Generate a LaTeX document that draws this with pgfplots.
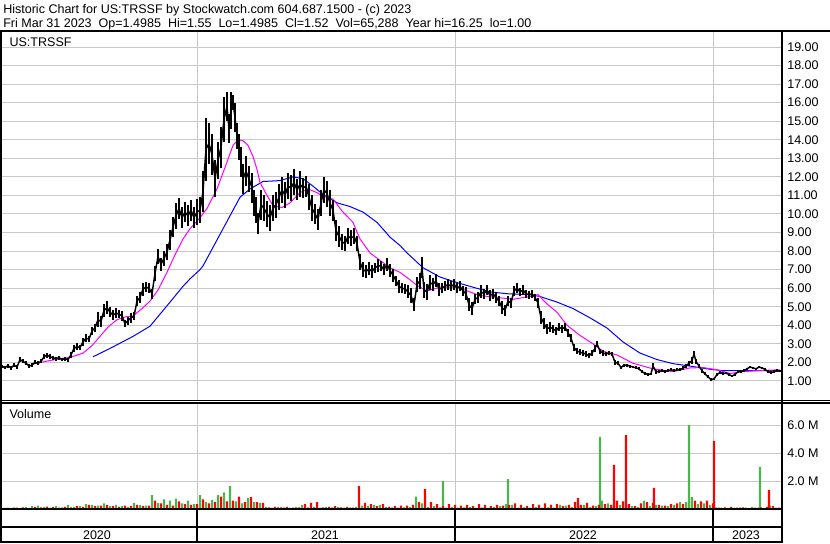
\documentclass[border=0pt]{standalone}
\usepackage{pgfplots}
\pgfplotsset{compat=1.18}
\usepackage{pgfplotstable}
\usepackage{fontspec}
\setmainfont{Liberation Sans}
\definecolor{gridgray}{RGB}{200,200,200}
\definecolor{volgreen}{RGB}{76,180,76}
\definecolor{volred}{RGB}{255,0,0}
\definecolor{mablue}{RGB}{0,0,255}
\definecolor{mamag}{RGB}{255,0,255}
\newcommand\sw{\fontsize{9.4pt}{11pt}\selectfont}

\pgfplotstableread{
x y e
2 1.78 0.10
5 1.72 0.10
8 1.82 0.11
11 1.70 0.10
14 1.85 0.11
17 1.75 0.10
20 2.15 0.14
23 2.05 0.11
26 1.95 0.11
29 1.80 0.10
32 1.85 0.11
35 2.00 0.11
38 1.95 0.10
41 2.05 0.11
44 2.30 0.14
47 2.38 0.14
50 2.30 0.14
53 2.25 0.11
56 2.20 0.10
59 2.25 0.11
62 2.15 0.10
65 2.20 0.11
68 2.15 0.11
71 2.40 0.14
74 2.75 0.17
77 2.85 0.17
80 2.80 0.14
83 3.10 0.21
86 3.30 0.21
89 3.25 0.17
92 3.70 0.21
95 3.85 0.21
98 4.30 0.42
101 4.20 0.28
104 4.80 0.35
107 4.95 0.35
110 4.70 0.28
113 4.55 0.28
116 4.65 0.28
119 4.60 0.21
122 4.50 0.28
125 4.10 0.21
128 4.25 0.21
131 4.40 0.28
134 4.50 0.21
137 5.30 0.28
140 5.50 0.28
143 5.95 0.35
146 6.05 0.28
149 6.00 0.28
152 5.70 0.28
155 6.80 0.42
158 7.70 0.42
161 7.30 0.35
164 7.60 0.42
167 7.95 0.42
170 8.60 0.56
173 9.30 0.56
176 9.90 0.7
179 10.30 0.56
182 9.80 0.56
185 10.10 0.56
188 9.90 0.56
191 10.20 0.56
194 9.80 0.56
197 10.10 0.7
200 10.20 0.7
203 11.20 1.1
206 13.50 1.7
209 13.80 1.1
212 13.20 1.1
215 11.90 1.0
218 12.90 1.0
221 13.60 1.1
224 15.10 1.2
227 15.80 0.8
229 14.60 0.8
231 15.60 1.0
233 16.00 0.4
235 15.20 0.8
237 14.20 0.7
239 13.60 0.7
241 12.80 0.8
243 11.90 0.8
246 12.30 0.8
249 11.90 0.7
252 11.40 0.8
254 10.60 0.7
256 10.20 0.7
258 9.50 0.56
261 10.50 0.8
264 10.30 0.7
267 10.00 0.7
270 9.80 0.7
273 10.30 0.7
276 10.50 0.7
279 10.90 0.7
282 11.30 0.7
285 11.00 0.7
288 11.50 0.7
291 11.40 0.7
294 11.70 0.7
297 11.30 0.56
300 11.60 0.7
303 11.40 0.56
306 11.50 0.56
309 10.90 0.7
312 10.30 0.7
315 10.00 0.56
318 9.70 0.56
321 10.60 0.7
324 11.30 0.7
327 11.10 0.7
330 10.60 0.7
333 10.20 0.56
336 9.10 0.56
339 8.80 0.56
342 8.50 0.42
345 8.40 0.42
348 8.80 0.42
351 8.70 0.42
354 8.80 0.42
357 8.40 0.42
360 7.40 0.42
363 7.00 0.42
366 6.90 0.35
369 7.05 0.35
372 6.90 0.35
375 7.10 0.28
378 7.20 0.35
381 7.20 0.28
384 7.00 0.28
387 7.30 0.35
390 6.95 0.35
393 6.70 0.35
396 6.40 0.28
399 6.10 0.35
402 6.00 0.28
405 5.95 0.28
408 5.80 0.35
411 5.60 0.42
414 5.10 0.35
417 6.20 0.42
420 6.40 0.42
422 7.10 0.56
424 5.90 0.42
427 5.80 0.42
430 6.30 0.42
433 6.20 0.35
436 6.40 0.35
439 5.95 0.35
442 6.00 0.28
445 6.10 0.28
448 6.20 0.28
451 6.10 0.28
454 6.20 0.28
457 6.00 0.28
460 6.10 0.28
463 5.85 0.28
466 5.70 0.35
469 5.10 0.35
472 4.90 0.35
475 5.40 0.28
478 5.50 0.28
481 5.80 0.35
484 5.70 0.28
487 5.90 0.28
490 5.60 0.28
493 5.70 0.28
496 5.50 0.28
499 5.30 0.28
502 4.95 0.35
505 4.80 0.28
508 5.30 0.28
511 5.20 0.28
514 5.85 0.28
517 6.00 0.28
520 5.80 0.21
523 5.90 0.28
526 5.70 0.21
529 5.65 0.21
532 5.70 0.21
535 5.50 0.21
538 5.20 0.28
541 4.40 0.35
544 4.10 0.28
547 3.80 0.28
550 3.90 0.28
553 3.80 0.21
556 3.70 0.21
559 3.90 0.21
562 3.80 0.21
565 3.90 0.21
568 3.60 0.21
571 3.30 0.21
574 2.80 0.21
577 2.60 0.17
580 2.55 0.17
583 2.50 0.17
586 2.45 0.14
589 2.35 0.14
592 2.50 0.14
595 2.75 0.17
597 3.00 0.17
600 2.60 0.14
603 2.50 0.14
606 2.45 0.11
609 2.50 0.11
612 2.45 0.11
615 2.00 0.14
618 1.95 0.11
621 1.72 0.08
624 1.85 0.08
627 1.85 0.08
630 1.80 0.08
633 1.75 0.08
636 1.70 0.08
639 1.65 0.08
642 1.50 0.08
645 1.40 0.07
648 1.35 0.07
651 1.38 0.07
653 1.80 0.14
656 1.50 0.11
659 1.50 0.08
662 1.55 0.08
665 1.50 0.08
668 1.55 0.08
671 1.60 0.08
674 1.55 0.08
677 1.60 0.08
680 1.62 0.08
683 1.68 0.1
686 1.80 0.11
689 1.95 0.14
692 2.10 0.17
694 2.45 0.17
696 2.05 0.14
699 1.80 0.11
702 1.55 0.11
705 1.38 0.08
708 1.22 0.08
711 1.08 0.07
714 1.10 0.07
717 1.35 0.08
720 1.45 0.07
723 1.40 0.07
726 1.42 0.07
729 1.35 0.07
732 1.26 0.07
735 1.35 0.07
738 1.50 0.07
741 1.50 0.07
744 1.55 0.07
747 1.65 0.07
750 1.75 0.07
753 1.70 0.07
756 1.65 0.07
759 1.75 0.07
762 1.70 0.07
765 1.62 0.07
768 1.50 0.07
771 1.45 0.07
774 1.50 0.07
777 1.55 0.07
780 1.52 0.06
}\pricedata

\pgfplotstableread{
x y
32 1.9
50 2.1
67 2.25
75 2.35
83 2.5
92 2.9
100 3.4
108 3.9
117 4.3
125 4.45
133 4.5
142 4.9
150 5.3
158 5.9
167 6.85
175 7.8
183 8.65
190 9.2
200 9.8
207 10.3
217 11.35
227 12.8
233 13.7
238 14.0
243 13.95
248 13.7
253 13.1
257 12.4
260 11.7
267 11.0
273 10.45
282 10.35
290 10.6
300 11.15
308 11.35
317 11.15
323 10.95
333 10.8
343 10.1
353 9.55
360 8.65
370 7.9
380 7.5
390 7.1
400 6.85
410 6.45
417 6.15
427 5.85
440 6.05
457 6.05
467 5.85
480 5.6
497 5.5
513 5.4
530 5.55
538 5.65
547 5.15
557 4.7
567 4.0
580 3.45
593 3.0
603 2.6
617 2.4
633 1.95
653 1.65
673 1.5
690 1.7
703 1.72
717 1.6
730 1.4
743 1.5
757 1.55
780 1.6
}\madata

\pgfplotstableread{
x y
93 2.3
110 2.75
133 3.4
150 3.95
167 5.05
183 6.1
190 6.5
200 7.0
203 7.2
213 8.2
223 9.2
232 10.1
240 10.9
250 11.35
263 11.75
280 11.8
293 12.0
303 11.9
313 11.5
323 11.05
337 10.6
350 10.4
363 10.1
377 9.55
390 8.75
400 8.3
407 7.9
423 7.1
440 6.6
457 6.3
473 6.05
490 5.8
507 5.7
530 5.65
540 5.55
557 5.25
573 4.9
590 4.4
607 3.85
623 3.1
640 2.5
657 2.15
673 1.93
690 1.8
707 1.65
723 1.55
780 1.55
}\mblue

\begin{document}
\begin{tikzpicture}
\useasboundingbox (0,0) rectangle (622.5pt,-407.25pt);

% ---------- price panel ----------
\begin{axis}[
  at={(1.5pt,-300pt)}, anchor=south west,
  width=585pt, height=276pt, scale only axis,
  xmin=2, xmax=782, ymin=-0.03, ymax=19.81,
  axis line style={draw=none}, tick style={draw=none},
  xtick={197,455,713}, xticklabels={},
  ytick={1,2,...,19},
  yticklabel pos=right,
  xmajorgrids, ymajorgrids,
  grid style={color=gridgray, line width=0.75pt},
  yticklabel style={anchor=west, inner sep=0pt, xshift=3.75pt, font=\sw},
  /pgf/number format/.cd, fixed, fixed zerofill, precision=2, assume math mode=true,
]
\addplot[mablue, line width=0.75pt, mark=none] table[x=x,y=y] \mblue;
\addplot[mamag, line width=0.75pt, mark=none] table[x=x,y=y] \madata;
\addplot[black, line width=1.1pt, mark=none,
  error bars/.cd, y dir=both, y explicit, error mark=none,
  error bar style={line width=1.7pt, black}]
  table[x=x, y=y, y error=e] \pricedata;
\end{axis}

% ---------- volume panel ----------
\begin{axis}[
  at={(1.5pt,-381.75pt)}, anchor=south west,
  width=585pt, height=79.5pt, scale only axis,
  xmin=2, xmax=782, ymin=0, ymax=7.63,
  axis line style={draw=none}, tick style={draw=none},
  xtick={197,455,713}, xticklabels={},
  ytick={2,4,6}, yticklabels={2.0 M,4.0 M,6.0 M},
  yticklabel pos=right,
  xmajorgrids, ymajorgrids,
  grid style={color=gridgray, line width=0.75pt},
  yticklabel style={anchor=west, inner sep=0pt, xshift=3.75pt, font=\sw},
  ybar, bar width=1.65pt, bar shift=0pt,
]
\addplot[fill=volgreen, draw=none] coordinates {
(2,0.05)(8,0.1)(14,0.12)(20,0.08)(26,0.15)(32,0.2)(38,0.25)(44,0.15)(50,0.1)(56,0.2)
(62,0.12)(68,0.3)(74,0.15)(80,0.2)(86,0.35)(92,0.3)(98,0.25)(104,0.4)(110,0.2)(116,0.3)
(122,0.2)(128,0.15)(134,0.45)(140,0.3)(146,0.25)(152,1.0)(158,0.45)(164,0.7)(170,0.6)(176,0.75)
(182,0.4)(188,0.6)(194,0.35)(200,1.0)(206,0.5)(212,0.65)(218,1.0)(224,1.2)(230,1.65)(236,0.55)
(242,0.4)(248,0.8)(254,0.5)(260,0.45)(266,0.15)(272,0.1)(278,0.15)(284,0.12)(290,0.1)(296,0.15)
(302,0.3)(308,0.12)(314,0.15)(320,0.1)(326,0.15)(332,0.12)(338,0.15)(344,0.1)(350,0.12)(356,0.15)
(362,0.25)(368,0.2)(374,0.3)(380,0.3)(386,0.15)(392,0.12)(398,0.1)(404,0.12)(410,0.15)(416,0.9)
(422,0.4)(428,0.15)(434,0.2)(440,0.12)(446,0.1)(452,0.15)(458,0.1)(464,0.12)(470,0.15)(476,0.1)
(482,0.12)(488,0.1)(494,0.15)(500,0.2)(506,0.35)(512,0.3)(518,0.1)(524,0.12)(530,0.1)(536,0.15)
(542,0.1)(548,0.12)(554,0.1)(560,0.3)(566,0.25)(572,0.15)(578,0.2)(584,0.3)(590,0.15)(596,0.2)
(602,0.6)(608,0.4)(614,0.2)(620,0.3)(626,0.15)(632,0.2)(638,0.15)(644,0.6)(650,0.2)(656,0.3)
(662,0.25)(668,0.2)(674,0.3)(680,0.5)(686,0.5)(692,0.85)(698,0.35)(704,0.4)(710,0.3)(716,0.12)
(722,0.1)(728,0.08)(734,0.1)(740,0.12)(746,0.1)(752,0.15)(758,0.1)(764,0.05)(770,0.25)(776,0.1)
(443,2.0)(508,2.16)(600,5.2)(689,6.04)(760,3.04)
};
\addplot[fill=volred, draw=none] coordinates {
(5,0.08)(11,0.05)(17,0.1)(23,0.12)(29,0.08)(35,0.15)(41,0.12)(47,0.18)(53,0.15)(59,0.1)
(65,0.15)(71,0.12)(77,0.2)(83,0.15)(89,0.3)(95,0.2)(101,0.25)(107,0.3)(113,0.2)(119,0.15)
(125,0.25)(131,0.2)(137,0.3)(143,0.2)(149,0.25)(155,0.6)(161,0.4)(167,0.3)(173,0.25)(179,0.55)
(185,0.35)(191,0.3)(197,0.35)(203,0.7)(209,0.4)(215,0.5)(221,0.9)(227,0.55)(233,0.6)(239,0.9)
(245,0.5)(251,0.85)(257,0.5)(263,0.45)(269,0.12)(275,0.15)(281,0.12)(287,0.15)(293,0.1)(299,0.12)
(305,0.35)(311,0.45)(317,0.5)(323,0.12)(329,0.15)(335,0.2)(341,0.12)(347,0.15)(353,0.1)(359,1.65)
(365,0.45)(371,0.35)(377,0.2)(383,0.35)(389,0.15)(395,0.2)(401,0.25)(407,0.25)(413,0.3)(419,0.5)
(425,1.44)(431,0.5)(437,0.35)(443,0.2)(449,0.35)(455,0.3)(461,0.25)(467,0.3)(473,0.2)(479,0.35)
(485,0.3)(491,0.2)(497,0.3)(503,0.25)(509,0.3)(515,0.4)(521,0.3)(527,0.2)(533,0.35)(539,0.3)
(545,0.4)(551,0.3)(557,0.35)(563,0.2)(569,0.3)(575,0.5)(581,0.3)(587,0.45)(593,0.25)(599,0.3)
(605,0.35)(611,0.3)(617,0.6)(623,0.55)(629,0.35)(635,0.2)(641,0.4)(647,0.5)(653,0.45)(659,0.3)
(665,0.25)(671,0.35)(677,0.4)(683,0.35)(695,0.6)(701,0.55)(707,0.6)(713,0.4)(719,0.1)(725,0.12)
(731,0.15)(737,0.1)(743,0.12)(749,0.08)(755,0.1)(761,0.12)(767,0.15)(773,0.2)(779,0.1)
(614,3.17)(626,5.32)(654,1.53)(714,4.9)(769,1.37)(578,0.8)
};
\end{axis}

% ---------- frame and texts (px units) ----------
\begin{scope}[x=0.75pt, y=-0.75pt]
\draw[line width=1.5pt] (0,31) -- (830,31);
\draw[line width=0.75pt] (0,400) -- (830,400);
\draw[line width=1.2pt] (0,402.8) -- (830,402.8);
\draw[line width=1.5pt] (0,509) -- (782,509);
\draw[line width=1.5pt] (0,526.5) -- (782,526.5);
\draw[line width=1.5pt] (0,542) -- (782,542);
\draw[line width=1.5pt] (1,31) -- (1,543);
\draw[line width=1.5pt] (782,31) -- (782,543);
\foreach \xx in {197,455,713} \draw[line width=0.9pt] (\xx,509) -- (\xx,542);
\node[anchor=base west, inner sep=0pt, font=\sw] at (3,13.3) {Historic Chart for US:TRSSF by Stockwatch.com 604.687.1500 - (c) 2023};
\node[anchor=base west, inner sep=0pt, font=\sw] at (3,27.5) {Fri Mar 31 2023\ \ Op=1.4985\ \ Hi=1.55\ \ Lo=1.4985\ \ Cl=1.52\ \ Vol=65,288\ \ Year hi=16.25\ \ lo=1.00};
\node[anchor=base west, inner sep=0pt, font=\sw] at (9.3,46.5) {US:TRSSF};
\node[anchor=base west, inner sep=0pt, font=\sw] at (9.3,418) {Volume};
\node[anchor=base, inner sep=0pt, font=\sw] at (97,539) {2020};
\node[anchor=base, inner sep=0pt, font=\sw] at (325,539) {2021};
\node[anchor=base, inner sep=0pt, font=\sw] at (583,539) {2022};
\node[anchor=base, inner sep=0pt, font=\sw] at (746,539) {2023};
\end{scope}
\end{tikzpicture}
\end{document}
